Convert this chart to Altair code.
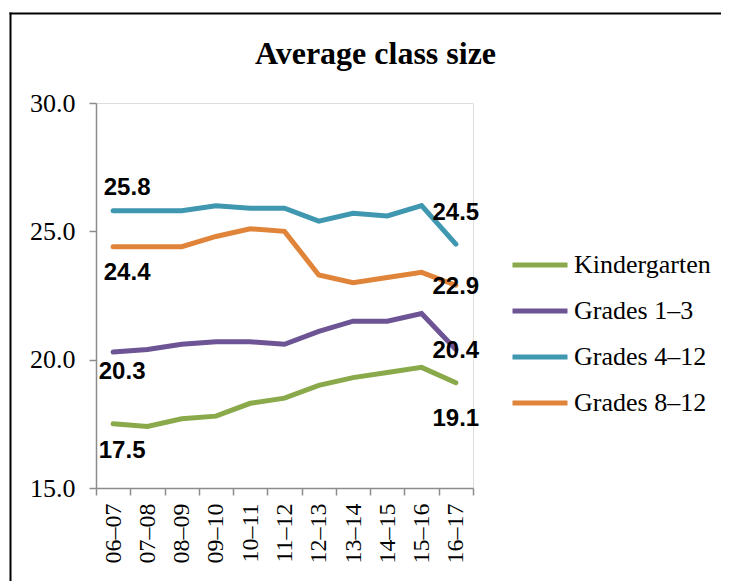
import altair as alt
import pandas as pd

periods = ["06–07", "07–08", "08–09", "09–10", "10–11", "11–12",
           "12–13", "13–14", "14–15", "15–16", "16–17"]
series = ["Kindergarten", "Grades 1–3", "Grades 4–12", "Grades 8–12"]
kindergarten = [17.5, 17.4, 17.7, 17.8, 18.3, 18.5, 19.0, 19.3, 19.5, 19.7, 19.1]
grades_1_3 = [20.3, 20.4, 20.6, 20.7, 20.7, 20.6, 21.1, 21.5, 21.5, 21.8, 20.4]
grades_4_12 = [25.8, 25.8, 25.8, 26.0, 25.9, 25.9, 25.4, 25.7, 25.6, 26.0, 24.5]
grades_8_12 = [24.4, 24.4, 24.4, 24.8, 25.1, 25.0, 23.3, 23.0, 23.2, 23.4, 22.9]
colors = ["#8AA94B", "#6D5494", "#3F97B0", "#E0843A"]
y_ticks = [15, 20, 25, 30]

values = {
    "Kindergarten": kindergarten,
    "Grades 1–3": grades_1_3,
    "Grades 4–12": grades_4_12,
    "Grades 8–12": grades_8_12,
}
rows = []
for s in series:
    for p, v in zip(periods, values[s]):
        rows.append({"period": p, "series": s, "value": v})
df = pd.DataFrame(rows)

serif = "Liberation Serif"
axis_gray = "#8C8C8C"

x_enc = alt.X(
    "period:N", sort=periods,
    scale=alt.Scale(type="band", domain=periods, paddingInner=0, paddingOuter=0),
    axis=alt.Axis(title=None, labelAngle=-90, labelFont=serif, labelFontSize=24,
                  labelColor="black", labelPadding=8, tickBand="extent",
                  domainColor=axis_gray, tickColor=axis_gray, domainWidth=1.5,
                  tickWidth=1.5, tickSize=7, grid=False),
)
y_enc = alt.Y(
    "value:Q",
    scale=alt.Scale(domain=[15, 30], nice=False, zero=False),
    axis=alt.Axis(title=None, values=y_ticks, format=".1f", labelFont=serif,
                  labelFontSize=26, labelColor="black", labelPadding=14,
                  domainColor=axis_gray, tickColor=axis_gray, domainWidth=1.5,
                  tickWidth=1.5, tickSize=7, grid=False),
)
color_enc = alt.Color(
    "series:N",
    scale=alt.Scale(domain=series, range=colors),
    legend=alt.Legend(title=None, orient="none", legendX=414, legendY=132,
                      symbolType="stroke", symbolSize=3025, symbolStrokeWidth=5,
                      labelFont=serif, labelFontSize=26, labelColor="black",
                      labelOffset=4, rowPadding=3),
)

base = alt.Chart(df)
lines = base.mark_line(strokeWidth=5, strokeCap="round").encode(
    x=x_enc, y=y_enc, color=color_enc, detail="series:N")

offsets = {
    ("Grades 4–12", 0): (14, -23), ("Grades 4–12", 1): (0, -31),
    ("Grades 8–12", 0): (14, 26), ("Grades 8–12", 1): (0, 2),
    ("Grades 1–3", 0): (9, 20), ("Grades 1–3", 1): (0, 2),
    ("Kindergarten", 0): (9, 27), ("Kindergarten", 1): (0, 36),
}
label_layers = []
for (s, end), (dx, dy) in offsets.items():
    p = periods[0] if end == 0 else periods[-1]
    label_layers.append(
        base.transform_filter(
            (alt.datum.series == s) & (alt.datum.period == p)
        ).mark_text(font="Liberation Sans", fontWeight="bold", fontSize=24,
                    color="black", dx=dx, dy=dy, align="center", baseline="middle"
        ).encode(x=alt.X("period:N", sort=periods), y="value:Q",
                 text=alt.Text("value:Q", format=".1f"))
    )

frame_src = alt.Chart(pd.DataFrame({"a": [0]}))
border_top = frame_src.mark_rule(stroke="black", strokeWidth=2).encode(
    x=alt.value(-86.5), x2=alt.value(700), y=alt.value(-89.5))
border_left = frame_src.mark_rule(stroke="black", strokeWidth=2).encode(
    x=alt.value(-85.5), y=alt.value(-90.5), y2=alt.value(600))

chart = alt.layer(border_top, border_left, lines, *label_layers).properties(
    width=377, height=385,
    title=alt.TitleParams("Average class size", font=serif, fontSize=32,
                          fontWeight="bold", color="black", anchor="middle",
                          dx=91, offset=-59),
    autosize=alt.AutoSizeParams(type="none"),
    padding={"left": 88, "top": 95, "right": 248, "bottom": 93},
).configure_view(stroke=None).configure(background="white")

chart.save("out.html", embed_options={"renderer": "svg", "actions": False})
